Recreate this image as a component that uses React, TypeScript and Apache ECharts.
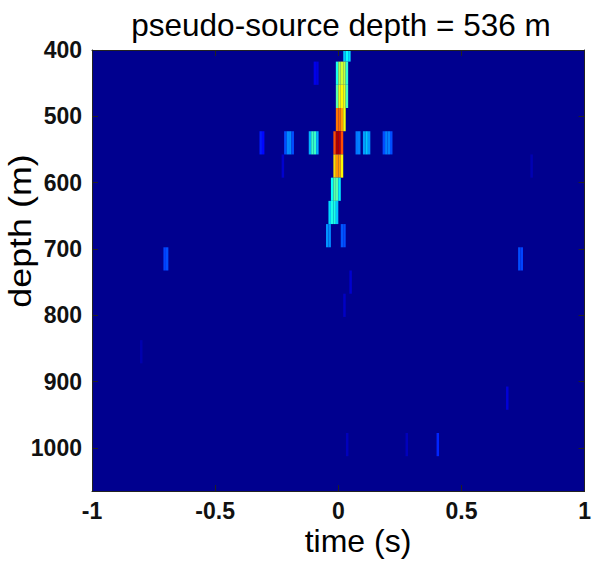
import React, { useEffect, useRef } from "react";
import * as echarts from "echarts";

const titleText = "pseudo-source depth = 536 m";
const xAxisTitle = "time (s)";
const yAxisTitle = "depth (m)";

const timeMin = -1;
const timeMax = 1;
const timeTickStep = 0.5;
const depthMin = 400;
const depthMax = 1065;
const depthTickStep = 100;

// cell size of the image (time sample width, depth spacing)
const timeStep = 0.01;
const depthStep = 35;

// jet colour map
const jetColors = ["#00008F", "#0000FF", "#0080FF", "#00FFFF", "#80FF80", "#FFFF00", "#FF8000", "#FF0000", "#800000"];

// [time (s), depth (m), normalised amplitude]
const ridgeCells = [
  [0.025, 400, 0.32], [0.035, 400, 0.38], [0.045, 400, 0.34],
  [-0.005, 435, 0.40], [0.005, 435, 0.54], [0.015, 435, 0.58], [0.025, 435, 0.56], [0.035, 435, 0.42],
  [-0.005, 470, 0.46], [0.005, 470, 0.60], [0.015, 470, 0.63], [0.025, 470, 0.60], [0.035, 470, 0.44],
  [-0.005, 505, 0.76], [0.005, 505, 0.77], [0.015, 505, 0.72], [0.025, 505, 0.62],
  [-0.015, 540, 0.80], [-0.005, 540, 0.96], [0.005, 540, 0.94], [0.015, 540, 0.80],
  [-0.015, 575, 0.66], [-0.005, 575, 0.73], [0.005, 575, 0.72], [0.015, 575, 0.63],
  [-0.025, 610, 0.38], [-0.015, 610, 0.46], [-0.005, 610, 0.46], [0.005, 610, 0.36],
  [-0.035, 645, 0.34], [-0.025, 645, 0.40], [-0.015, 645, 0.40], [-0.005, 645, 0.32],
  [-0.045, 680, 0.27], [-0.035, 680, 0.26], [0.015, 680, 0.21], [0.025, 680, 0.20],
];

const sideLobeCells = [
  [-0.315, 540, 0.15], [-0.305, 540, 0.13],
  [-0.215, 540, 0.20], [-0.205, 540, 0.26], [-0.195, 540, 0.26], [-0.185, 540, 0.20],
  [-0.115, 540, 0.30], [-0.105, 540, 0.43], [-0.095, 540, 0.43], [-0.085, 540, 0.30],
  [0.075, 540, 0.24], [0.085, 540, 0.25],
  [0.105, 540, 0.28], [0.115, 540, 0.32], [0.125, 540, 0.27],
  [0.185, 540, 0.20], [0.195, 540, 0.25], [0.205, 540, 0.25], [0.215, 540, 0.20],
];

const faintCells = [
  [-0.095, 435, 0.10], [-0.085, 435, 0.09],
  [-0.225, 575, 0.07],
  [0.785, 575, 0.04],
  [-0.705, 715, 0.19], [-0.695, 715, 0.20],
  [0.735, 715, 0.20], [0.745, 715, 0.19],
  [0.05, 750, 0.07],
  [0.025, 785, 0.06],
  [-0.8, 855, 0.035],
  [0.686, 925, 0.08],
  [0.036, 995, 0.05], [0.278, 995, 0.05], [0.404, 995, 0.16],
];

const FONT = "'Liberation Sans', Arial, Helvetica, sans-serif";

export default function App() {
  const ref = useRef<HTMLDivElement>(null);

  useEffect(() => {
    if (!ref.current) return;
    const chart = echarts.init(ref.current, undefined, { renderer: "svg" });
    const data = [...ridgeCells, ...sideLobeCells, ...faintCells];

    const axisLine = { show: true, onZero: false, lineStyle: { color: "#222", width: 1 } };
    const axisTick = { show: true, inside: true, length: 6, lineStyle: { color: "#222", width: 1 } };
    const tickFont = {
      color: "#111",
      fontSize: 23,
      fontWeight: "bold",
      fontFamily: FONT,
      formatter: (v: number) => String(v),
    };

    chart.setOption({
      animation: false,
      grid: {
        left: 92,
        right: 5,
        top: 50,
        bottom: 76,
        show: true,
        backgroundColor: jetColors[0],
        borderWidth: 0,
      },
      visualMap: {
        type: "continuous",
        show: false,
        min: 0,
        max: 1,
        dimension: 2,
        seriesIndex: 0,
        inRange: { color: jetColors },
      },
      xAxis: [
        {
          type: "value",
          min: timeMin,
          max: timeMax,
          interval: timeTickStep,
          position: "bottom",
          z: 10,
          axisLine,
          axisTick,
          splitLine: { show: false },
          axisLabel: { margin: 8, ...tickFont },
        },
        {
          type: "value",
          min: timeMin,
          max: timeMax,
          interval: timeTickStep,
          position: "top",
          z: 10,
          axisLine,
          axisTick,
          splitLine: { show: false },
          axisLabel: { show: false },
        },
      ],
      yAxis: [
        {
          type: "value",
          inverse: true,
          min: depthMin,
          max: depthMax,
          interval: depthTickStep,
          position: "left",
          z: 10,
          axisLine,
          axisTick,
          splitLine: { show: false },
          axisLabel: { margin: 10, showMaxLabel: false, ...tickFont },
        },
        {
          type: "value",
          inverse: true,
          min: depthMin,
          max: depthMax,
          interval: depthTickStep,
          position: "right",
          z: 10,
          axisLine,
          axisTick,
          splitLine: { show: false },
          axisLabel: { show: false },
        },
      ],
      series: [
        {
          type: "custom",
          xAxisIndex: 0,
          yAxisIndex: 0,
          clip: true,
          data,
          encode: { x: 0, y: 1 },
          renderItem: (params: any, api: any) => {
            const t = api.value(0);
            const d = api.value(1);
            const p0 = api.coord([t - timeStep / 2, d - depthStep / 2]);
            const p1 = api.coord([t + timeStep / 2, d + depthStep / 2]);
            return {
              type: "rect",
              shape: {
                x: Math.min(p0[0], p1[0]),
                y: Math.min(p0[1], p1[1]),
                width: Math.abs(p1[0] - p0[0]),
                height: Math.abs(p1[1] - p0[1]),
              },
              style: { fill: api.visual("color") },
            };
          },
        },
      ],
      graphic: [
        {
          type: "text",
          x: 341,
          y: 24.5,
          style: {
            text: titleText,
            font: `31.5px ${FONT}`,
            fill: "#000",
            textAlign: "center",
            textVerticalAlign: "middle",
          },
        },
        {
          type: "text",
          x: 358,
          y: 541,
          style: {
            text: xAxisTitle,
            font: `32px ${FONT}`,
            fill: "#000",
            textAlign: "center",
            textVerticalAlign: "middle",
          },
        },
        {
          type: "text",
          x: 20,
          y: 231,
          rotation: Math.PI / 2,
          scaleX: 1.12,
          style: {
            text: yAxisTitle,
            font: `32px ${FONT}`,
            fill: "#000",
            textAlign: "center",
            textVerticalAlign: "middle",
          },
        },
      ],
    });

    return () => chart.dispose();
  }, []);

  return (
    <div
      ref={ref}
      style={{ position: "absolute", left: 0, top: 0, width: 594, height: 567, background: "#fff" }}
    />
  );
}
